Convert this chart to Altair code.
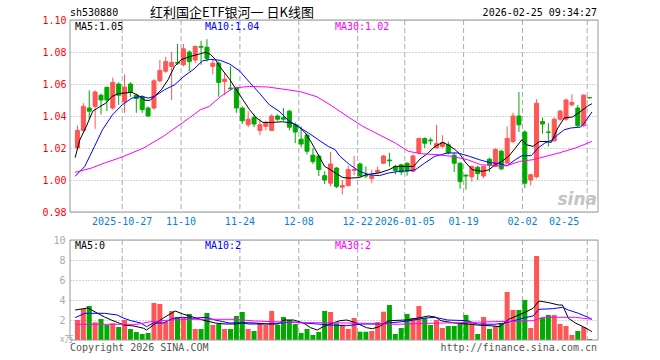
import altair as alt
import numpy as np
import pandas as pd

# ---------------- data ----------------
oct25 = [15, 16, 17, 20, 21, 22, 23, 24, 27, 28, 29, 30, 31]
nov25 = [3, 4, 5, 6, 7, 10, 11, 12, 13, 14, 17, 18, 19, 20, 21, 24, 25, 26, 27, 28]
dec25 = [1, 2, 3, 4, 5, 8, 9, 10, 11, 12, 15, 16, 17, 18, 19, 22, 23, 24, 25, 26, 29, 30, 31]
jan26 = [5, 6, 7, 8, 9, 12, 13, 14, 15, 16, 19, 20, 21, 22, 23, 26, 27, 28, 29, 30]
feb26 = [2, 3, 4, 5, 6, 9, 10, 11, 12, 13, 24, 25]
dates = ([f"2025-10-{d:02d}" for d in oct25] + [f"2025-11-{d:02d}" for d in nov25]
         + [f"2025-12-{d:02d}" for d in dec25] + [f"2026-01-{d:02d}" for d in jan26]
         + [f"2026-02-{d:02d}" for d in feb26])

opens = [1.020, 1.031, 1.045, 1.046, 1.053, 1.058, 1.045, 1.060, 1.049, 1.060,
         1.053, 1.052, 1.045, 1.045, 1.062, 1.068, 1.071, 1.0735, 1.072, 1.080,
         1.075, 1.0835, 1.083, 1.071, 1.073, 1.0615, 1.0575, 1.0575, 1.045, 1.0345,
         1.039, 1.031, 1.0335, 1.031, 1.040, 1.039, 1.043, 1.0345, 1.0255, 1.028,
         1.0155, 1.015, 1.0027, 0.998, 1.0075, 0.9955, 0.9965, 1.006, 1.010, 1.003,
         1.001, 1.0048, 1.0105, 1.0125, 1.0085, 1.0095, 1.0105, 1.0055, 1.017, 1.026,
         1.025, 1.020, 1.021, 1.022, 1.0155, 1.0105, 1.003, 1.002, 1.008, 1.0025,
         1.013, 1.0085, 1.018, 1.0105, 1.024, 1.040, 1.030, 1.000, 1.002, 1.0365,
         1.030, 1.0245, 1.038, 1.038, 1.047, 1.045, 1.034, 1.0515]
highs = [1.034, 1.048, 1.056, 1.056, 1.054, 1.058, 1.064, 1.061, 1.066, 1.061,
         1.054, 1.053, 1.046, 1.063, 1.075, 1.077, 1.080, 1.085, 1.085, 1.081,
         1.084, 1.087, 1.088, 1.075, 1.074, 1.067, 1.071, 1.058, 1.046, 1.043,
         1.041, 1.038, 1.037, 1.041, 1.041, 1.045, 1.044, 1.036, 1.0335, 1.029,
         1.020, 1.016, 1.0055, 1.0175, 1.008, 1.000, 1.009, 1.015, 1.011, 1.0085,
         1.0065, 1.0085, 1.0155, 1.017, 1.0095, 1.010, 1.011, 1.016, 1.0265, 1.0265,
         1.0265, 1.0345, 1.028, 1.024, 1.017, 1.011, 1.0035, 1.009, 1.009, 1.009,
         1.014, 1.020, 1.019, 1.0335, 1.042, 1.055, 1.031, 1.004, 1.0505, 1.039,
         1.0355, 1.039, 1.044, 1.051, 1.0535, 1.047, 1.0535, 1.0515]
lows = [1.019, 1.030, 1.038, 1.032, 1.041, 1.043, 1.044, 1.047, 1.042, 1.052,
        1.042, 1.042, 1.0395, 1.044, 1.061, 1.067, 1.050, 1.072, 1.071, 1.068,
        1.073, 1.072, 1.074, 1.066, 1.052, 1.053, 1.056, 1.042, 1.035, 1.033,
        1.033, 1.028, 1.031, 1.031, 1.037, 1.037, 1.031, 1.023, 1.0205, 1.016,
        1.010, 1.0025, 0.9975, 0.996, 0.995, 0.991, 0.996, 1.003, 1.002, 1.001,
        0.998, 1.004, 1.010, 1.0085, 1.0035, 1.003, 1.0027, 1.005, 1.016, 1.020,
        1.022, 1.020, 1.020, 1.016, 1.005, 0.9945, 0.994, 0.999, 1.000, 1.001,
        1.005, 1.008, 1.006, 1.010, 1.023, 1.030, 0.995, 0.9965, 1.001, 1.029,
        1.021, 1.024, 1.037, 1.037, 1.046, 1.033, 1.033, 1.051]
closes = [1.031, 1.046, 1.043, 1.055, 1.050, 1.050, 1.061, 1.053, 1.058, 1.055,
          1.051, 1.044, 1.040, 1.062, 1.0685, 1.074, 1.0735, 1.073, 1.082, 1.074,
          1.0835, 1.083, 1.076, 1.073, 1.061, 1.063, 1.057, 1.045, 1.037, 1.038,
          1.035, 1.0345, 1.0355, 1.040, 1.038, 1.038, 1.033, 1.030, 1.0225, 1.018,
          1.0115, 1.0065, 1.000, 1.010, 0.996, 0.9965, 1.0065, 1.0065, 1.0025, 1.0025,
          1.0027, 1.006, 1.015, 1.012, 1.006, 1.005, 1.0055, 1.015, 1.026, 1.023,
          1.0245, 1.0227, 1.0235, 1.017, 1.0105, 0.999, 1.0025, 1.0085, 1.004, 1.0085,
          1.0095, 1.019, 1.007, 1.026, 1.040, 1.0345, 0.998, 1.0033, 1.048, 1.035,
          1.0298, 1.038, 1.043, 1.050, 1.0485, 1.034, 1.053, 1.0513]
volumes = [2.0, 3.1, 3.4, 1.77, 2.1, 1.5, 1.67, 1.3, 2.0, 1.1,
           0.8, 0.6, 0.7, 3.7, 3.6, 1.8, 2.9, 2.3, 2.2, 2.6,
           1.1, 1.1, 2.7, 1.5, 1.6, 1.1, 1.1, 2.4, 2.8, 1.1,
           0.9, 1.7, 1.5, 2.9, 1.5, 2.3, 2.0, 1.6, 0.7, 1.1,
           0.5, 0.8, 2.9, 2.8, 1.67, 1.53, 1.1, 2.2, 0.83, 0.83,
           0.9, 1.8, 2.83, 3.5, 0.6, 1.2, 2.6, 2.2, 3.4, 2.2,
           1.5, 2.0, 1.2, 1.4, 1.4, 1.6, 2.5, 1.8, 0.6, 2.3,
           1.1, 1.4, 1.7, 4.8, 3.0, 3.0, 4.0, 1.2, 8.4, 2.2,
           2.5, 2.5, 1.6, 1.4, 0.5, 0.9, 1.3, 0.1]

# moving-average lines (position in candle units, value)
ma5_i = [-0.4, 0.4, 1.5, 2.6, 3.7, 4.8, 5.9, 7.0, 9.25, 10.4, 11.5, 12.3, 13.1, 14.25, 15.4, 16.5,
         17.6, 19.25, 20.9, 21.75, 22.6, 23.4, 24.25, 25.9, 27.0, 28.1, 29.25, 30.4, 31.5, 33.1,
         34.8, 36.5, 37.6, 38.7, 39.8, 40.9, 42.0, 42.9, 44.0, 45.1, 46.25, 47.9, 49.0, 50.1,
         51.25, 52.9, 54.0, 55.7, 57.1, 58.2, 59.6, 60.7, 62.1, 62.9, 64.0, 64.9, 66.0, 67.1,
         68.8, 69.9, 71.0, 72.1, 73.25, 74.4, 75.5, 76.3, 77.4, 78.5, 79.6, 80.5, 81.6, 82.7,
         84.1, 85.5, 86.6, 87.4]
ma5_v = [1.014, 1.025, 1.0335, 1.043, 1.0456, 1.048, 1.0523, 1.054, 1.0548, 1.0527, 1.0498,
         1.0498, 1.0523, 1.0564, 1.0627, 1.071, 1.0752, 1.0773, 1.0789, 1.0798, 1.0785, 1.0755,
         1.0705, 1.0627, 1.0564, 1.0502, 1.0439, 1.0388, 1.036, 1.036, 1.0364, 1.0356, 1.0335,
         1.0294, 1.0231, 1.0158, 1.0085, 1.0066, 1.0039, 1.0015, 1.0012, 1.0015, 1.0033, 1.0039,
         1.0044, 1.0064, 1.0085, 1.0085, 1.0085, 1.0131, 1.0169, 1.021, 1.0235, 1.022, 1.0194,
         1.0165, 1.0106, 1.0064, 1.0054, 1.0064, 1.0096, 1.0116, 1.0148, 1.020, 1.0252, 1.022,
         1.021, 1.0241, 1.0241, 1.0235, 1.0325, 1.0388, 1.0394, 1.0429, 1.046, 1.0477]
ma10_i = [-0.4, 1.25, 2.9, 4.25, 5.9, 7.6, 9.25, 10.9, 12.0, 13.1, 14.8, 16.5, 18.1, 19.8, 21.25,
          22.6, 24.25, 25.9, 27.6, 29.25, 30.9, 32.6, 34.25, 35.9, 37.6, 39.25, 40.9, 42.6, 43.75,
          44.6, 46.25, 47.9, 49.6, 51.25, 52.9, 54.6, 56.25, 57.4, 59.0, 60.7, 62.9, 64.6, 66.6,
          68.25, 69.9, 71.6, 73.0, 74.4, 75.5, 77.1, 78.25, 79.4, 80.5, 81.6, 82.7, 83.8, 85.5,
          86.3, 87.4]
ma10_v = [1.0023, 1.0085, 1.021, 1.0314, 1.0405, 1.047, 1.0512, 1.0523, 1.0512, 1.0523, 1.0564,
          1.0595, 1.0648, 1.0694, 1.0745, 1.0754, 1.0748, 1.0724, 1.068, 1.061, 1.0543, 1.047,
          1.043, 1.037, 1.0331, 1.0294, 1.0252, 1.021, 1.019, 1.0148, 1.0096, 1.0054, 1.0033,
          1.0027, 1.0044, 1.0054, 1.0058, 1.0064, 1.0106, 1.0148, 1.0169, 1.0169, 1.0148, 1.0127,
          1.011, 1.0102, 1.0089, 1.0127, 1.0152, 1.0152, 1.020, 1.0231, 1.0248, 1.0283, 1.0314,
          1.0325, 1.0331, 1.0366, 1.0425]
ma30_i = [-0.4, 2.4, 4.6, 7.6, 11.25, 14.6, 17.4, 19.0, 20.9, 22.4, 24.25, 26.5, 29.25, 32.4,
          35.1, 37.9, 40.7, 43.1, 46.25, 48.5, 51.25, 54.0, 56.25, 58.5, 61.25, 63.5, 66.25,
          68.5, 70.7, 72.9, 75.1, 77.4, 79.6, 81.8, 84.6, 87.4]
ma30_v = [1.0048, 1.0075, 1.0106, 1.0144, 1.020, 1.0273, 1.0346, 1.0388, 1.0439, 1.046, 1.052,
          1.0575, 1.0585, 1.0581, 1.0567, 1.0552, 1.052, 1.0466, 1.0388, 1.0335, 1.0283, 1.0231,
          1.0179, 1.0164, 1.0158, 1.0148, 1.0127, 1.0096, 1.0089, 1.0089, 1.0116, 1.0127, 1.0148,
          1.0169, 1.020, 1.0241]
vma5_i = [-0.4, 1.75, 4.6, 5.75, 7.9, 9.6, 11.25, 11.75, 12.9, 14.6, 16.6, 17.9, 19.6, 21.25, 23.4,
          25.1, 26.75, 28.4, 30.1, 32.4, 34.1, 35.1, 36.75, 38.4, 39.6, 40.75, 41.75, 42.9, 44.6,
          45.75, 47.4, 49.1, 50.1, 51.25, 52.9, 55.75, 57.9, 59.6, 60.75, 61.75, 64.1, 66.25,
          67.9, 70.75, 71.75, 73.25, 74.6, 76.25, 77.4, 78.4, 80.1, 81.75, 82.4, 83.4, 84.6,
          86.25, 87.4]
vma5_v = [3.0, 3.2, 2.3, 2.0, 1.5, 1.4, 1.17, 1.0, 1.5, 2.2, 2.9, 2.6, 2.3, 2.0, 1.7, 1.6, 1.6,
          1.73, 1.7, 1.6, 1.6, 2.0, 2.0, 1.7, 1.23, 1.0, 1.33, 1.6, 1.93, 2.0, 1.7, 1.23, 1.13,
          1.33, 1.93, 2.0, 2.2, 2.4, 2.3, 1.93, 1.7, 1.6, 1.5, 1.4, 1.33, 2.07, 2.4, 2.83, 3.17,
          3.9, 3.73, 3.5, 3.5, 2.17, 1.7, 1.23, 0.83]
vma10_i = [-0.4, 1.25, 4.6, 6.75, 7.9, 9.1, 10.75, 11.75, 12.9, 14.6, 16.25, 17.9, 19.6, 21.75,
           23.4, 25.75, 27.4, 29.1, 31.75, 34.6, 36.75, 38.4, 40.75, 42.9, 45.75, 48.4, 51.25,
           52.9, 55.75, 59.1, 60.75, 62.9, 66.25, 67.9, 70.75, 72.4, 74.6, 76.25, 77.4, 78.4,
           80.75, 82.4, 83.4, 85.1, 86.75, 87.4]
vma10_v = [2.23, 2.67, 2.67, 2.5, 2.17, 1.93, 1.7, 1.33, 1.7, 1.7, 2.17, 2.27, 2.17, 2.27, 2.0,
           1.7, 1.73, 1.6, 1.6, 1.7, 1.8, 1.7, 1.6, 1.5, 1.43, 1.6, 1.6, 1.7, 1.87, 2.2, 2.27,
           2.0, 1.93, 1.6, 1.57, 1.67, 2.0, 2.27, 2.4, 3.07, 3.13, 3.27, 3.0, 2.67, 2.27, 2.07]
vma30_i = [-0.4, 10.1, 12.4, 15.75, 19.1, 26.75, 30.1, 37.9, 42.9, 48.4, 54.1, 59.6, 65.1,
           70.75, 77.4, 79.1, 84.6, 87.4]
vma30_v = [1.57, 1.57, 1.83, 2.0, 2.07, 2.07, 1.9, 1.73, 1.73, 1.67, 1.57, 1.67, 1.73, 1.83,
           1.93, 2.27, 2.27, 2.07]

tick_labels = ["2025-10-27", "11-10", "11-24", "12-08", "12-22", "2026-01-05", "01-19", "02-02", "02-25"]
tick_dates = ["2025-10-27", "2025-11-10", "2025-11-24", "2025-12-08", "2025-12-22",
              "2026-01-05", "2026-01-19", "2026-02-02", "2026-02-25"]
price_ticks = [0.98, 1.00, 1.02, 1.04, 1.06, 1.08, 1.10]
vol_ticks = [2, 4, 6, 8, 10]

# ---------------- styling ----------------
RED = "#ff5555"
GREEN = "#00aa00"
MONO = "DejaVu Sans Mono"
PW, PH = 528, 320

df = pd.DataFrame({"i": np.arange(len(dates)), "date": dates, "o": opens, "h": highs,
                   "l": lows, "c": closes, "vol": volumes})
df["d"] = np.where(df["c"] > df["o"], "up", "down")

tick_df = pd.DataFrame({"label": tick_labels, "i": [dates.index(d) for d in tick_dates]})
main_ticks = tick_df.iloc[:-1]
last_tick = tick_df.iloc[-1:]

price_ma = pd.concat([pd.DataFrame({"i": ma5_i, "v": ma5_v, "s": "MA5"}),
                      pd.DataFrame({"i": ma10_i, "v": ma10_v, "s": "MA10"}),
                      pd.DataFrame({"i": ma30_i, "v": ma30_v, "s": "MA30"})])
vol_ma = pd.concat([pd.DataFrame({"i": vma5_i, "v": vma5_v, "s": "MA5"}),
                    pd.DataFrame({"i": vma10_i, "v": vma10_v, "s": "MA10"}),
                    pd.DataFrame({"i": vma30_i, "v": vma30_v, "s": "MA30"})])
frames = pd.DataFrame({"ptop": [price_ticks[-1]], "pbot": [price_ticks[0]],
                       "vtop": [vol_ticks[-1]], "vbot": [0]})
one = pd.DataFrame({"a": [0]})

xs = alt.Scale(domain=[-5 / 12, len(dates) - 5 / 12], nice=False, zero=False)
ps = alt.Scale(domain=[price_ticks[0], price_ticks[-1]], range=[192, 0], nice=False, zero=False)
vs = alt.Scale(domain=[0, vol_ticks[-1]], range=[320, 220], nice=False, zero=False)
dir_scale = alt.Scale(domain=["up", "down"], range=[RED, GREEN])
ma_scale = alt.Scale(domain=["MA5", "MA10", "MA30"], range=["#000000", "#0000ff", "#ff00ff"])

# vertical dashed grid lines inside each panel
vgrid_p = alt.Chart(tick_df).transform_calculate(gx="datum.i - 0.4").mark_rule(
    color="#aaaaaa", strokeDash=[5, 3], strokeWidth=1).encode(
    x=alt.X("gx:Q", scale=xs, axis=None),
    y=alt.YDatum(price_ticks[-1], scale=ps, axis=None), y2=alt.Y2Datum(price_ticks[0]))
vgrid_v = alt.Chart(tick_df).transform_calculate(gx="datum.i - 0.4").mark_rule(
    color="#aaaaaa", strokeDash=[5, 3], strokeWidth=1).encode(
    x=alt.X("gx:Q", scale=xs, axis=None),
    y=alt.YDatum(vol_ticks[-1], scale=vs, axis=None), y2=alt.Y2Datum(0))

frame_p = alt.Chart(frames).mark_rect(fillOpacity=0, stroke="#999999", strokeWidth=1).encode(
    x=alt.value(0), x2=alt.value(PW),
    y=alt.Y("ptop:Q", scale=ps, axis=None), y2="pbot:Q")
frame_v = alt.Chart(frames).mark_rect(fillOpacity=0, stroke="#999999", strokeWidth=1).encode(
    x=alt.value(0), x2=alt.value(PW),
    y=alt.Y("vtop:Q", scale=vs, axis=None), y2="vbot:Q")

price_axis = alt.Axis(values=price_ticks, format=".2f", orient="left", labelColor="#ff0000",
                      labelFont=MONO, labelFontSize=10, ticks=False, domain=False, grid=True,
                      gridColor="#aaaaaa", gridDash=[1, 2], labelPadding=4, title="")
vol_axis = alt.Axis(values=vol_ticks, format="d", orient="left", labelColor="#aaaaaa",
                    labelFont=MONO, labelFontSize=10, ticks=False, domain=False, grid=True,
                    gridColor="#aaaaaa", gridDash=[1, 2], labelPadding=5, title="")

wicks = alt.Chart(df).mark_rule(strokeWidth=1).encode(
    x=alt.X("i:Q", scale=xs, axis=None),
    y=alt.Y("l:Q", scale=ps, axis=price_axis), y2="h:Q",
    color=alt.Color("d:N", scale=dir_scale, legend=None))
bodies = alt.Chart(df).mark_bar(size=4, strokeWidth=1).encode(
    x=alt.X("i:Q", scale=xs, axis=None),
    y=alt.Y("o:Q", scale=ps, axis=None), y2="c:Q",
    fill=alt.Fill("d:N", scale=dir_scale, legend=None),
    stroke=alt.Stroke("d:N", scale=dir_scale, legend=None))
price_lines = alt.Chart(price_ma).mark_line(strokeWidth=1).encode(
    x=alt.X("i:Q", scale=xs, axis=None),
    y=alt.Y("v:Q", scale=ps, axis=None),
    color=alt.Color("s:N", scale=ma_scale, legend=None))

vol_bars = alt.Chart(df).mark_bar(size=5).encode(
    x=alt.X("i:Q", scale=xs, axis=None),
    y=alt.Y("vol:Q", scale=vs, axis=vol_axis, stack=None),
    color=alt.Color("d:N", scale=dir_scale, legend=None))
vol_lines = alt.Chart(vol_ma).mark_line(strokeWidth=1).encode(
    x=alt.X("i:Q", scale=xs, axis=None),
    y=alt.Y("v:Q", scale=vs, axis=None),
    color=alt.Color("s:N", scale=ma_scale, legend=None))

date_labels = alt.Chart(main_ticks).transform_calculate(gx="datum.i - 0.4").mark_text(
    font=MONO, fontSize=10, color="#0a7fd0", align="center", baseline="alphabetic").encode(
    x=alt.X("gx:Q", scale=xs, axis=None), y=alt.value(205), text="label:N")
date_last = alt.Chart(last_tick).transform_calculate(gx="datum.i - 0.4").mark_text(
    font=MONO, fontSize=10, color="#0a7fd0", align="right", baseline="alphabetic", dx=-8).encode(
    x=alt.X("gx:Q", scale=xs, axis=None), y=alt.value(205), text="label:N")


def txt(s, x, y, color, size=10, align="left", font=MONO, **kw):
    return alt.Chart(one).mark_text(text=s, align=align, baseline="alphabetic", font=font,
                                    fontSize=size, color=color, **kw).encode(
        x=alt.value(x), y=alt.value(y))


texts = [
    txt("sh530880", 0, -4, "#000000"),
    txt("红利国企ETF银河一 日K线图", 80, -3, "#000000", size=13, font="Noto Sans CJK SC"),
    txt("2026-02-25 09:34:27", 527, -4, "#000000", align="right"),
    txt("MA5:1.05", 5, 10, "#000000"),
    txt("MA10:1.04", 135, 10, "#0000ff"),
    txt("MA30:1.02", 265, 10, "#ff00ff"),
    txt("MA5:0", 5, 229, "#000000"),
    txt("MA10:2", 135, 229, "#0000ff"),
    txt("MA30:2", 265, 229, "#ff00ff"),
    txt("x万", -10, 322, "#aaaaaa", size=9, font="Noto Sans CJK SC"),
    txt("Copyright 2026 SINA.COM", 0, 331, "#555555"),
    txt("http://finance.sina.com.cn", 527, 331, "#555555", align="right"),
    txt("sina", 527, 185, "#c4c4c4", size=17, align="right", font="DejaVu Sans",
        fontStyle="italic", fontWeight="bold"),
]

chart = alt.layer(
    vgrid_p, vgrid_v, wicks, bodies, price_lines, vol_bars, vol_lines,
    frame_p, frame_v, date_labels, date_last, *texts
).resolve_scale(y="independent", color="independent").properties(
    width=PW, height=PH,
    padding={"left": 70, "top": 20, "right": 62, "bottom": 20},
    autosize=alt.AutoSizeParams(type="none"),
    background="white",
).configure_view(stroke="transparent")

chart.save("out.html", embed_options={"renderer": "svg", "actions": False})
